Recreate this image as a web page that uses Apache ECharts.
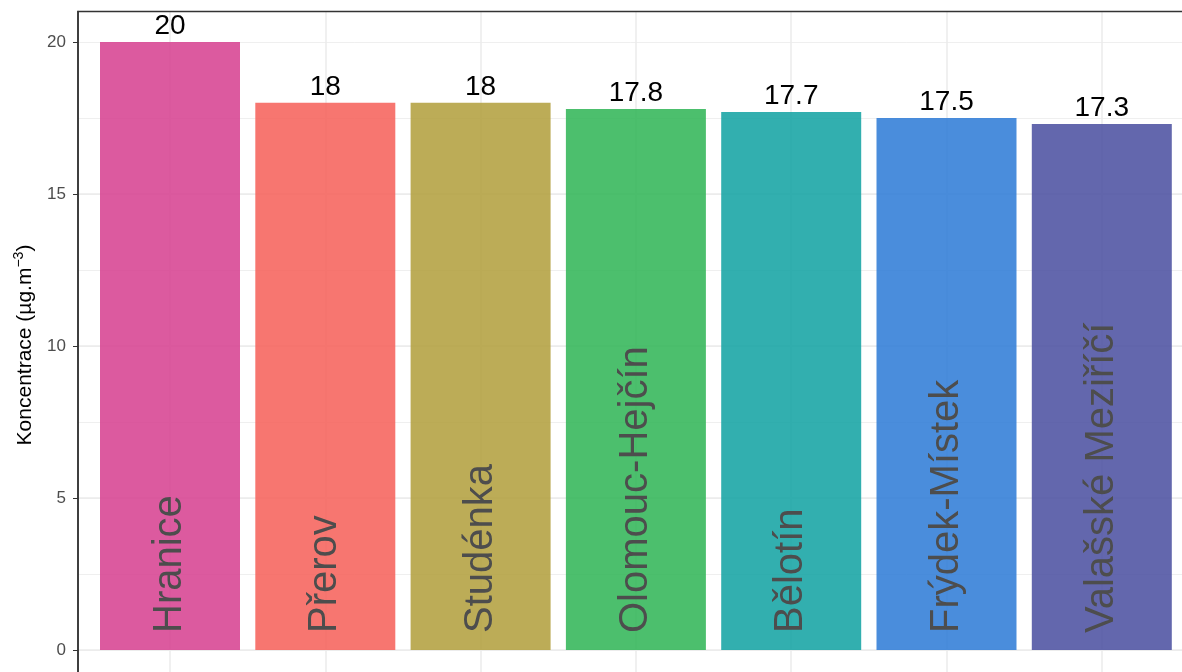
<!DOCTYPE html>
<html>
<head>
<meta charset="utf-8">
<script src="https://cdn.jsdelivr.net/npm/echarts@6/dist/echarts.min.js"></script>
<style>
  html, body { margin: 0; padding: 0; background: #fff; }
  #chart { width: 1182px; height: 672px; }
</style>
</head>
<body>
<div id="chart"></div>
<script>
// data
const stations = ['Hranice', 'Přerov', 'Studénka', 'Olomouc-Hejčín', 'Bělotín', 'Frýdek-Místek', 'Valašské Meziříčí'];
const concentrations = [20, 18, 18, 17.8, 17.7, 17.5, 17.3];
const barColors = [
  'rgba(216,72,149,0.9)',
  'rgba(246,103,97,0.9)',
  'rgba(181,163,69,0.9)',
  'rgba(56,184,93,0.9)',
  'rgba(28,166,166,0.9)',
  'rgba(54,129,216,0.9)',
  'rgba(82,87,164,0.9)'
];
const yTicks = [0, 5, 10, 15, 20];
const yTitle = 'Koncentrace (µg.m{sup|−3})';

const FONT = '"Liberation Sans", Arial, sans-serif';
const GRID_COLOR = '#ebebeb';
// panel runs from -5 (below the picture) up to 21, 30.4 px per unit
const yMin = -5, yMax = 21;

const chart = echarts.init(document.getElementById('chart'));

const barData = concentrations.map((v, i) => ({
  value: [i, v],
  itemStyle: { color: barColors[i] }
}));

chart.setOption({
  animation: false,
  textStyle: { fontFamily: FONT },
  grid: [
    // the panel: border + horizontal grid lines (it runs past the picture edges)
    { left: 78, top: 11.6, width: 1117, height: 790.4, show: true, outerBoundsMode: 'none', z: 5,
      borderColor: '#333', borderWidth: 1.5, backgroundColor: 'transparent' },
    // bars, centres of categories at x = 0..6
    { left: 170, top: 11.6, width: 931.8, height: 790.4, outerBoundsMode: 'none' }
  ],
  xAxis: [
    { gridIndex: 0, type: 'value', min: 0, max: 1, show: false },
    {
      gridIndex: 1, type: 'value', min: 0, max: stations.length - 1, interval: 1,
      axisLine: { show: false }, axisTick: { show: false }, axisLabel: { show: false },
      splitLine: { show: true, lineStyle: { color: GRID_COLOR, width: 1.5 } }
    }
  ],
  yAxis: [
    {
      gridIndex: 0, type: 'value', min: yMin, max: yMax, interval: 5,
      axisLine: { show: true, lineStyle: { color: '#333', width: 1.5 } },
      axisTick: { show: true, length: 5, customValues: yTicks, lineStyle: { color: '#333' } },
      axisLabel: {
        customValues: yTicks, margin: 12, fontSize: 17, color: '#4d4d4d', fontFamily: FONT,
        formatter: v => (v >= 0 && v <= 20 ? String(v) : '')
      },
      splitLine: { show: true, showMaxLine: false, lineStyle: { color: GRID_COLOR, width: 1.5 } }
    },
    {
      // minor grid lines
      gridIndex: 0, type: 'value', min: yMin, max: yMax, interval: 2.5,
      axisLine: { show: false }, axisTick: { show: false }, axisLabel: { show: false },
      splitLine: { show: true, showMaxLine: false, lineStyle: { color: GRID_COLOR, width: 0.8 } }
    },
    { gridIndex: 1, type: 'value', min: yMin, max: yMax, show: false }
  ],
  graphic: [{
    type: 'text',
    x: 25, y: 345,
    rotation: Math.PI / 2,
    style: {
      text: yTitle,
      fontSize: 21, fontFamily: FONT, fill: '#000',
      align: 'center', verticalAlign: 'middle',
      rich: {
        sup: { fontSize: 14, fontFamily: FONT, fill: '#000', verticalAlign: 'top', lineHeight: 26 }
      }
    }
  }],
  series: [
    {
      type: 'bar',
      xAxisIndex: 1, yAxisIndex: 2,
      data: barData,
      barWidth: 140,
      clip: false,
      silent: true,
      label: {
        show: true, position: 'top', distance: 2,
        fontSize: 28, color: '#000', fontFamily: FONT,
        formatter: p => String(concentrations[p.dataIndex])
      }
    },
    {
      // station names written up inside the bars
      type: 'bar',
      xAxisIndex: 1, yAxisIndex: 2,
      data: concentrations.map((v, i) => [i, v]),
      barWidth: 140, barGap: '-100%',
      clip: false,
      silent: true,
      itemStyle: { color: 'rgba(0,0,0,0)' },
      label: {
        show: true, position: 'insideBottom', distance: 17,
        rotate: 90, align: 'left', verticalAlign: 'middle',
        fontSize: 40, color: '#4d4d4d', fontFamily: FONT,
        formatter: p => stations[p.dataIndex]
      }
    }
  ]
});
</script>
</body>
</html>
